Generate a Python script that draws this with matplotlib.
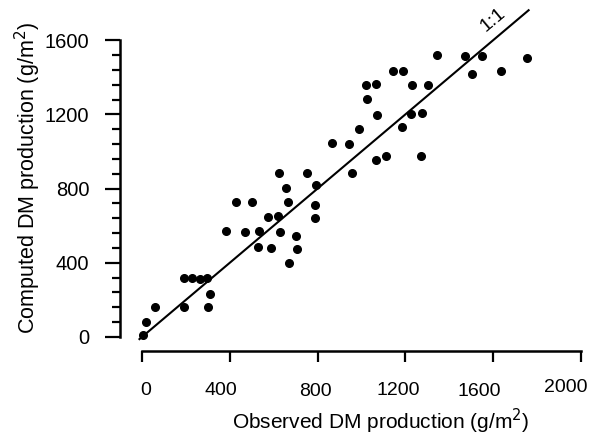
import matplotlib
matplotlib.use("Agg")
import matplotlib.pyplot as plt
import matplotlib.transforms as mtransforms
from matplotlib.ticker import FixedLocator

plt.rcParams['font.family'] = ['Liberation Sans', 'DejaVu Sans']

# Observed vs computed dry-matter production (g/m2)
observed = [5, 20, 60, 190, 300, 310, 190, 230, 265, 295,
            385, 470, 535, 630, 700, 530, 590, 705, 670, 575,
            620, 430, 500, 665, 625, 750, 955, 655, 795, 790,
            790, 865, 945, 990, 1065, 1110, 1270, 1185, 1070, 1225,
            1275, 1025, 1020, 1065, 1230, 1305, 1145, 1190, 1505, 1635,
            1345, 1470, 1550, 1755]
computed = [10, 80, 160, 160, 160, 230, 320, 320, 315, 320,
            570, 565, 570, 565, 545, 485, 480, 475, 400, 645,
            650, 730, 730, 725, 885, 885, 885, 805, 820, 710,
            640, 1045, 1040, 1120, 955, 975, 975, 1130, 1195, 1200,
            1210, 1285, 1360, 1365, 1360, 1360, 1435, 1435, 1420, 1435,
            1520, 1515, 1515, 1505]
one_to_one = [-15, 1765]
x_ticks = [0, 400, 800, 1200, 1600, 2000]
y_ticks = [0, 400, 800, 1200, 1600]
y_minor = list(range(0, 1601, 80))

fig = plt.figure(figsize=(5.95, 4.43), dpi=100)
ax = fig.add_axes([120/595, 1 - 351/443, 461/595, 347/443])

ax.plot(one_to_one, one_to_one, color='black', lw=1.5, solid_capstyle='butt')
ax.plot(observed, computed, 'o', color='black', ms=5.5, mec='black')
ax.text(1598, 1712, '1:1', rotation=40, ha='center', va='center', fontsize=14)

ax.set_xlim(-100, 2000)
ax.set_ylim(-75.5, 1795)

for s in ['top', 'right']:
    ax.spines[s].set_visible(False)
ax.spines['left'].set_bounds(0, 1600)
ax.spines['bottom'].set_bounds(0, 2000)
ax.spines['left'].set_linewidth(1.8)
ax.spines['bottom'].set_linewidth(1.8)

ax.set_xticks(x_ticks)
ax.set_yticks(y_ticks)
ax.yaxis.set_minor_locator(FixedLocator(y_minor))
ax.tick_params(axis='y', which='major', length=11, width=1.6, pad=11, labelsize=14.5, direction='out')
ax.tick_params(axis='y', which='minor', length=6, width=1.6, direction='out')
ax.tick_params(axis='x', which='major', length=8, width=1.6, pad=14, labelsize=14, direction='out')

# slight irregular placement of the x tick labels, as in the printed original
label_shift = [(4, 0), (-9, 0), (-2, -1.5), (-7, 0), (-14, -1), (-15, 3)]
for lab, (dx, dy) in zip(ax.get_xticklabels(), label_shift):
    off = mtransforms.ScaledTranslation(dx / 100, dy / 100, fig.dpi_scale_trans)
    lab.set_transform(lab.get_transform() + off)

ax.set_xlabel('Observed DM production (g/m$^2$)', fontsize=15, va='center')
ax.xaxis.set_label_coords((381 - 120) / 461, (351 - 421) / 347)
ax.set_ylabel('Computed DM production (g/m$^2$)', fontsize=15.5, va='center')
ax.yaxis.set_label_coords((28 - 120) / 461, (351 - 178) / 347)

fig.savefig('out.png', dpi=100)
